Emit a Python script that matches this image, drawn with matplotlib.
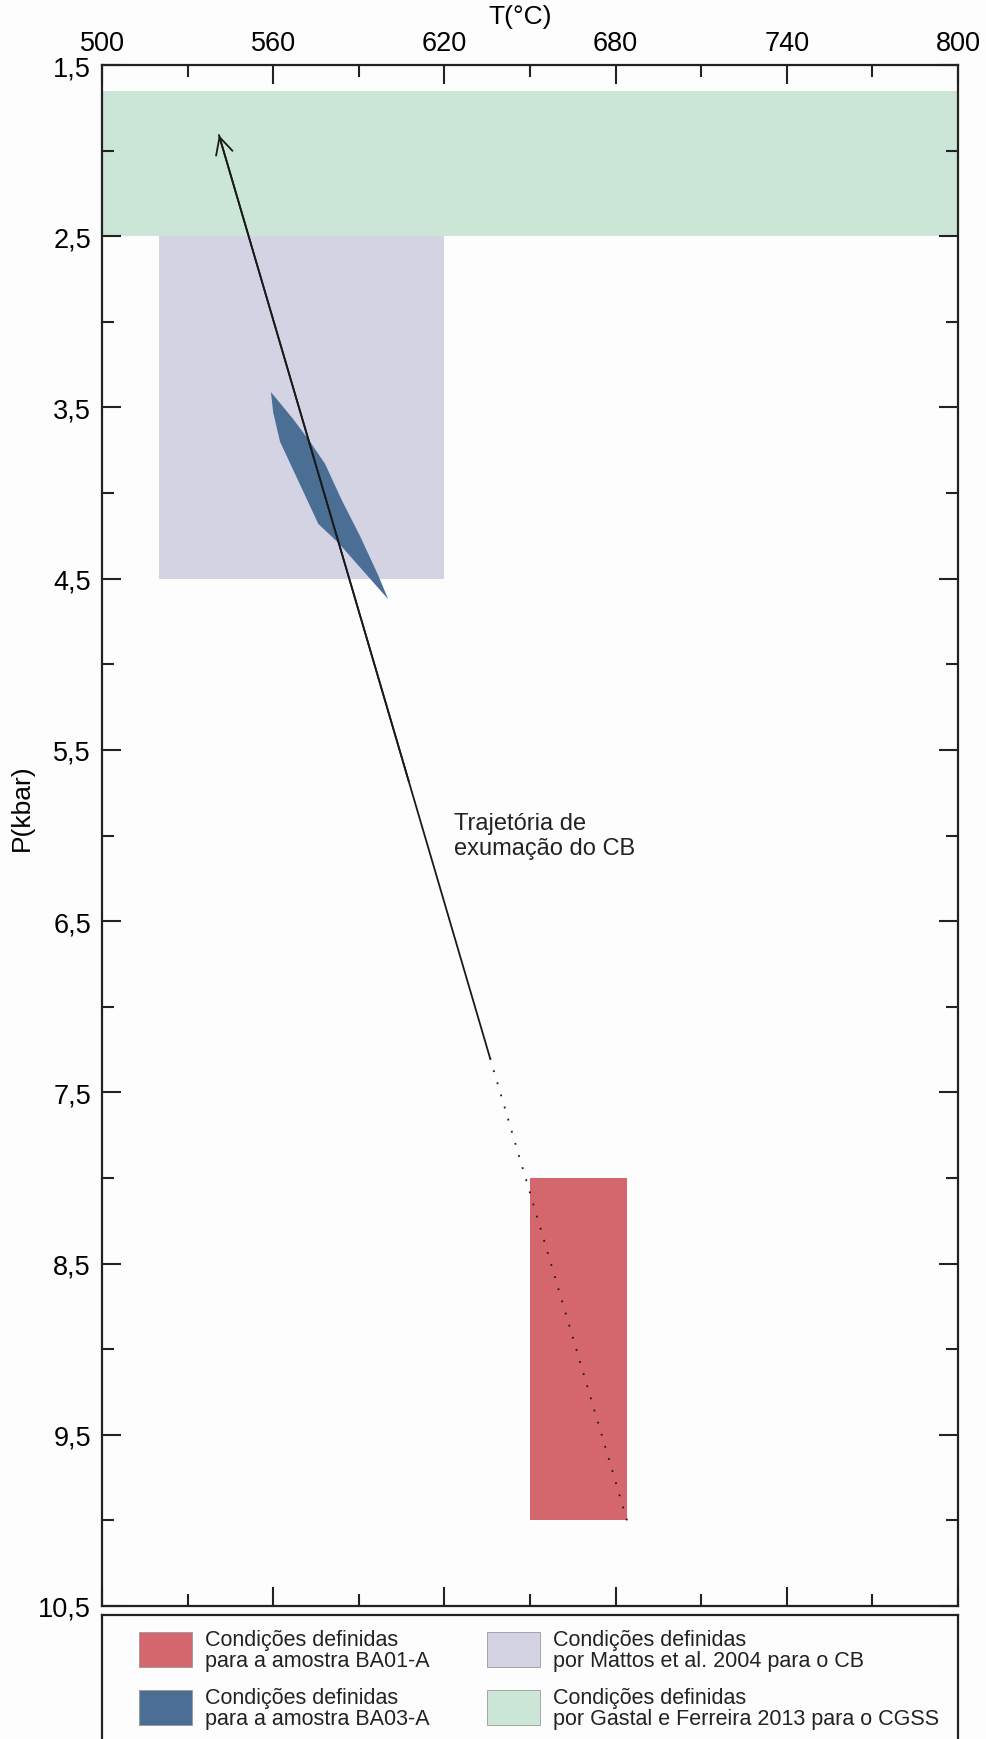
import matplotlib
matplotlib.use("Agg")
import matplotlib.pyplot as plt
from matplotlib.patches import Rectangle
from matplotlib.ticker import MultipleLocator, FuncFormatter

# P-T fields (T in °C, P in kbar)
cgss_t = [500, 800]
cgss_p = [1.65, 2.5]
cb_t = [520, 620]
cb_p = [2.5, 4.5]
ba01_t = [650, 684]
ba01_p = [8.0, 10.0]
ba03_t = [559.2, 560.0, 562.4, 575.8, 582.8, 600.3, 596.8, 590.4, 584.0, 578.2, 572.9, 567.1]
ba03_p = [3.41, 3.53, 3.70, 4.18, 4.29, 4.62, 4.48, 4.25, 4.04, 3.83, 3.70, 3.57]

# exhumation path: dotted part then solid part ending in the arrow
path_dot_t = [684, 636]
path_dot_p = [10.0, 7.3]
path_solid_t = [636, 541]
path_solid_p = [7.3, 1.91]

col_ba01 = "#d4676e"
col_ba03 = "#4b6f94"
col_cb = "#d3d3e4"
col_cgss = "#cbe5d6"

legend_colors = [col_ba01, col_ba03, col_cb, col_cgss]
legend_labels = [
    "Condições definidas\npara a amostra BA01-A",
    "Condições definidas\npara a amostra BA03-A",
    "Condições definidas\npor Mattos et al. 2004 para o CB",
    "Condições definidas\npor Gastal e Ferreira 2013 para o CGSS",
]

plt.rcParams["font.family"] = ["Liberation Sans", "DejaVu Sans"]

W, H = 986, 1740
fig = plt.figure(figsize=(W / 100, H / 100), dpi=100, facecolor="#fdfdfd")
ax = fig.add_axes([102 / W, (H - 1607) / H, (958 - 102) / W, (1607 - 66) / H])
ax.set_facecolor("#fdfdfd")

ax.fill_between(cgss_t, cgss_p[0], cgss_p[1], color=col_cgss, lw=0)
ax.fill_between(cb_t, cb_p[0], cb_p[1], color=col_cb, lw=0)
ax.fill_between(ba01_t, ba01_p[0], ba01_p[1], color=col_ba01, lw=0)
ax.fill(ba03_t, ba03_p, color=col_ba03, lw=0)

ax.plot(path_dot_t, path_dot_p, color="#1a1a1a", lw=1.3, linestyle=(0, (1, 6)))
ax.plot(path_solid_t, path_solid_p, color="#1a1a1a", lw=1.3)
ax.annotate("", xy=(path_solid_t[-1], path_solid_p[-1]),
            xytext=(path_solid_t[-2] + 0.3 * (path_solid_t[-1] - path_solid_t[-2]),
                    path_solid_p[-2] + 0.3 * (path_solid_p[-1] - path_solid_p[-2])),
            arrowprops=dict(arrowstyle="->,head_length=0.55,head_width=0.28",
                            color="#1a1a1a", lw=1.3, mutation_scale=22,
                            shrinkA=0, shrinkB=0))

ax.text(623.5, 6.0, "Trajetória de\nexumação do CB", fontsize=17,
        ha="left", va="center", color="#222222", linespacing=1.15)

ax.set_xlim(500, 800)
ax.set_ylim(10.5, 1.5)

ax.xaxis.set_major_locator(MultipleLocator(60, offset=20))
ax.xaxis.set_minor_locator(MultipleLocator(30, offset=20))
ax.yaxis.set_major_locator(MultipleLocator(1.0, offset=0.5))
ax.yaxis.set_minor_locator(MultipleLocator(0.5))
ax.yaxis.set_major_formatter(FuncFormatter(lambda v, p: f"{v:.1f}".replace(".", ",")))

ax.tick_params(which="both", direction="in", top=True, bottom=True, left=True, right=True,
               labeltop=True, labelbottom=False, width=1.5, color="#222222")
ax.tick_params(which="major", length=13.5, labelsize=19.5)
ax.tick_params(which="minor", length=8.5)
ax.tick_params(axis="x", which="major", pad=6.5)
ax.tick_params(axis="y", which="major", pad=8)
for s in ax.spines.values():
    s.set_linewidth(1.6)
    s.set_color("#222222")

ax.text(0.488, 1.032, "T(°C)", transform=ax.transAxes, ha="center", va="center", fontsize=19)
ax.text(-0.0935, 0.519, "P(kbar)", transform=ax.transAxes, ha="center", va="center",
        fontsize=19, rotation=90)

# legend box (bottom edge runs off the figure)
lax = fig.add_axes([102 / W, -0.03, (958 - 102) / W, (H - 1616) / H + 0.03])
lax.set_facecolor("#fdfdfd")
lax.set_xticks([])
lax.set_yticks([])
for s in lax.spines.values():
    s.set_linewidth(1.6)
    s.set_color("#222222")

# legend entries laid out in pixel positions, two columns
col_x = [139, 487]
row_top = [1633, 1691]
for i, (c, lab) in enumerate(zip(legend_colors, legend_labels)):
    x0 = col_x[i // 2]
    y0 = row_top[i % 2]
    fig.patches.append(Rectangle((x0 / W, 1 - (y0 + 35) / H), 53 / W, 35 / H,
                                 transform=fig.transFigure, facecolor=c,
                                 edgecolor="#999999", lw=0.6))
    # baseline of the last line sits near the bottom of the swatch
    fig.text((x0 + 66) / W, 1 - (y0 + 34) / H, lab, fontsize=15.5, ha="left", va="baseline",
             color="#222222", linespacing=1.0)

fig.savefig("out.png", dpi=100, facecolor=fig.get_facecolor())
